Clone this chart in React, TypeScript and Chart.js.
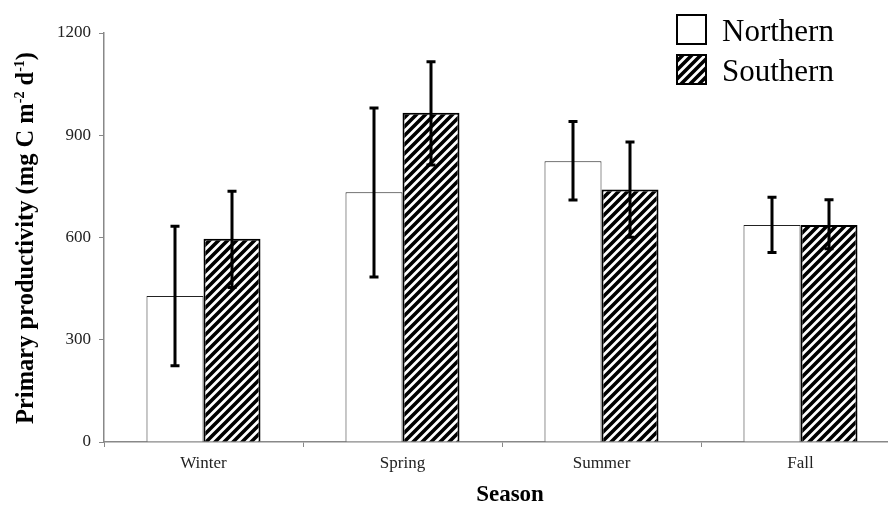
import React, { useEffect, useRef } from "react";
import { Chart, registerables } from "chart.js";

Chart.register(...registerables);

// Seasonal primary productivity, mean with error range
const seasons = ["Winter", "Spring", "Summer", "Fall"];
const northern = [428, 733, 824, 637];
const southern = [596, 966, 741, 637];
const northernLow = [224, 484, 710, 556];
const northernHigh = [633, 980, 940, 718];
const southernLow = [453, 813, 601, 567];
const southernHigh = [736, 1116, 880, 711];
const yTicks = [0, 300, 600, 900, 1200];

const seriesNames = ["Northern", "Southern"];
const SERIF = "'Liberation Serif', 'Times New Roman', serif";

function makeHatch(): CanvasPattern | string {
  const s = 9;
  const c = document.createElement("canvas");
  c.width = s;
  c.height = s;
  const g = c.getContext("2d");
  if (!g) return "#000";
  g.fillStyle = "#fff";
  g.fillRect(0, 0, s, s);
  g.strokeStyle = "#000";
  g.lineWidth = 3.6;
  g.lineCap = "square";
  g.beginPath();
  g.moveTo(0, s);
  g.lineTo(s, 0);
  g.moveTo(-2, 2);
  g.lineTo(2, -2);
  g.moveTo(s - 2, s + 2);
  g.lineTo(s + 2, s - 2);
  g.stroke();
  const p = g.createPattern(c, "repeat");
  return p || "#000";
}

const errorBars = {
  id: "errorBars",
  afterDatasetsDraw(chart: any) {
    const ctx = chart.ctx;
    const y = chart.scales.y;
    const lows = [northernLow, southernLow];
    const highs = [northernHigh, southernHigh];
    ctx.save();
    ctx.strokeStyle = "#000";
    ctx.lineWidth = 3;
    ctx.lineCap = "butt";
    for (let d = 0; d < 2; d++) {
      const meta = chart.getDatasetMeta(d);
      meta.data.forEach((bar: any, j: number) => {
        const x = Math.round(bar.x);
        const yl = y.getPixelForValue(lows[d][j]);
        const yh = y.getPixelForValue(highs[d][j]);
        ctx.beginPath();
        ctx.moveTo(x, yl);
        ctx.lineTo(x, yh);
        ctx.moveTo(x - 4.5, yl);
        ctx.lineTo(x + 4.5, yl);
        ctx.moveTo(x - 4.5, yh);
        ctx.lineTo(x + 4.5, yh);
        ctx.stroke();
      });
    }
    ctx.restore();
  },
};

const titlesAndLegend = {
  id: "titlesAndLegend",
  afterDraw(chart: any) {
    const ctx = chart.ctx;
    ctx.save();
    ctx.fillStyle = "#000";

    // x-axis title
    ctx.font = `bold 23px ${SERIF}`;
    ctx.textAlign = "center";
    ctx.textBaseline = "middle";
    ctx.fillText("Season", 510, 495);

    // y-axis title with superscripts
    const parts = [
      { t: "Primary productivity (mg C m", sup: false },
      { t: "-2", sup: true },
      { t: " d", sup: false },
      { t: "-1", sup: true },
      { t: ")", sup: false },
    ];
    const mainFont = `bold 24.5px ${SERIF}`;
    const supFont = `bold 14px ${SERIF}`;
    let total = 0;
    const widths = parts.map((p) => {
      ctx.font = p.sup ? supFont : mainFont;
      const w = ctx.measureText(p.t).width;
      total += w;
      return w;
    });
    ctx.translate(24, 238);
    ctx.rotate(-Math.PI / 2);
    ctx.textAlign = "left";
    ctx.textBaseline = "alphabetic";
    let cx = -total / 2;
    parts.forEach((p, i) => {
      ctx.font = p.sup ? supFont : mainFont;
      ctx.fillText(p.t, cx, p.sup ? 0 : 9);
      cx += widths[i];
    });
    ctx.setTransform(1, 0, 0, 1, 0, 0);

    // legend
    const fills = ["#fff", chart.data.datasets[1].backgroundColor];
    const tops = [15, 55];
    for (let i = 0; i < 2; i++) {
      ctx.fillStyle = fills[i];
      ctx.fillRect(677, tops[i], 29, 29);
      ctx.strokeStyle = "#000";
      ctx.lineWidth = 2;
      ctx.strokeRect(677, tops[i], 29, 29);
      ctx.fillStyle = "#000";
      ctx.font = `31px ${SERIF}`;
      ctx.textAlign = "left";
      ctx.textBaseline = "alphabetic";
      ctx.fillText(seriesNames[i], 722, tops[i] + 26);
    }
    ctx.restore();
  },
};

export default function App() {
  const ref = useRef<HTMLCanvasElement | null>(null);

  useEffect(() => {
    if (!ref.current) return;
    const hatch = makeHatch();
    const chart = new Chart(ref.current, {
      type: "bar",
      data: {
        labels: seasons,
        datasets: [
          {
            label: seriesNames[0],
            data: northern,
            backgroundColor: "#fff",
            borderColor: "#222",
            borderWidth: 1,
            categoryPercentage: 0.573,
            barPercentage: 1,
          },
          {
            label: seriesNames[1],
            data: southern,
            backgroundColor: hatch as any,
            borderColor: "#000",
            borderWidth: 2,
            categoryPercentage: 0.573,
            barPercentage: 1,
          },
        ],
      },
      options: {
        responsive: false,
        animation: false,
        devicePixelRatio: 1,
        layout: { padding: { top: 33, left: 0, right: 0, bottom: 0 } },
        plugins: {
          legend: { display: false },
          tooltip: { enabled: false },
          title: { display: false },
        },
        scales: {
          x: {
            offset: true,
            afterFit(scale: any) {
              scale.height = 69;
            },
            grid: {
              offset: true,
              drawOnChartArea: false,
              drawTicks: true,
              tickLength: 5,
              color: "#888",
            },
            border: { color: "#888", width: 1.5 },
            ticks: {
              padding: 6,
              color: "#222",
              font: { family: SERIF, size: 17 },
            },
          },
          y: {
            min: 0,
            max: 1200,
            afterFit(scale: any) {
              scale.width = 104;
            },
            afterBuildTicks(scale: any) {
              scale.ticks = yTicks.map((v) => ({ value: v }));
            },
            grid: {
              drawOnChartArea: false,
              drawTicks: true,
              tickLength: 5,
              color: "#888",
            },
            border: { color: "#888", width: 1.5 },
            ticks: {
              padding: 8,
              color: "#222",
              font: { family: SERIF, size: 17 },
              callback: (v: any) => String(v),
            },
          },
        },
      },
      plugins: [errorBars, titlesAndLegend],
    });
    return () => chart.destroy();
  }, []);

  return (
    <div
      style={{
        position: "fixed",
        left: 0,
        top: 0,
        width: 888,
        height: 511,
        overflow: "hidden",
        background: "#fff",
      }}
    >
      <canvas ref={ref} width={900} height={511} style={{ width: 900, height: 511, display: "block" }} />
    </div>
  );
}
